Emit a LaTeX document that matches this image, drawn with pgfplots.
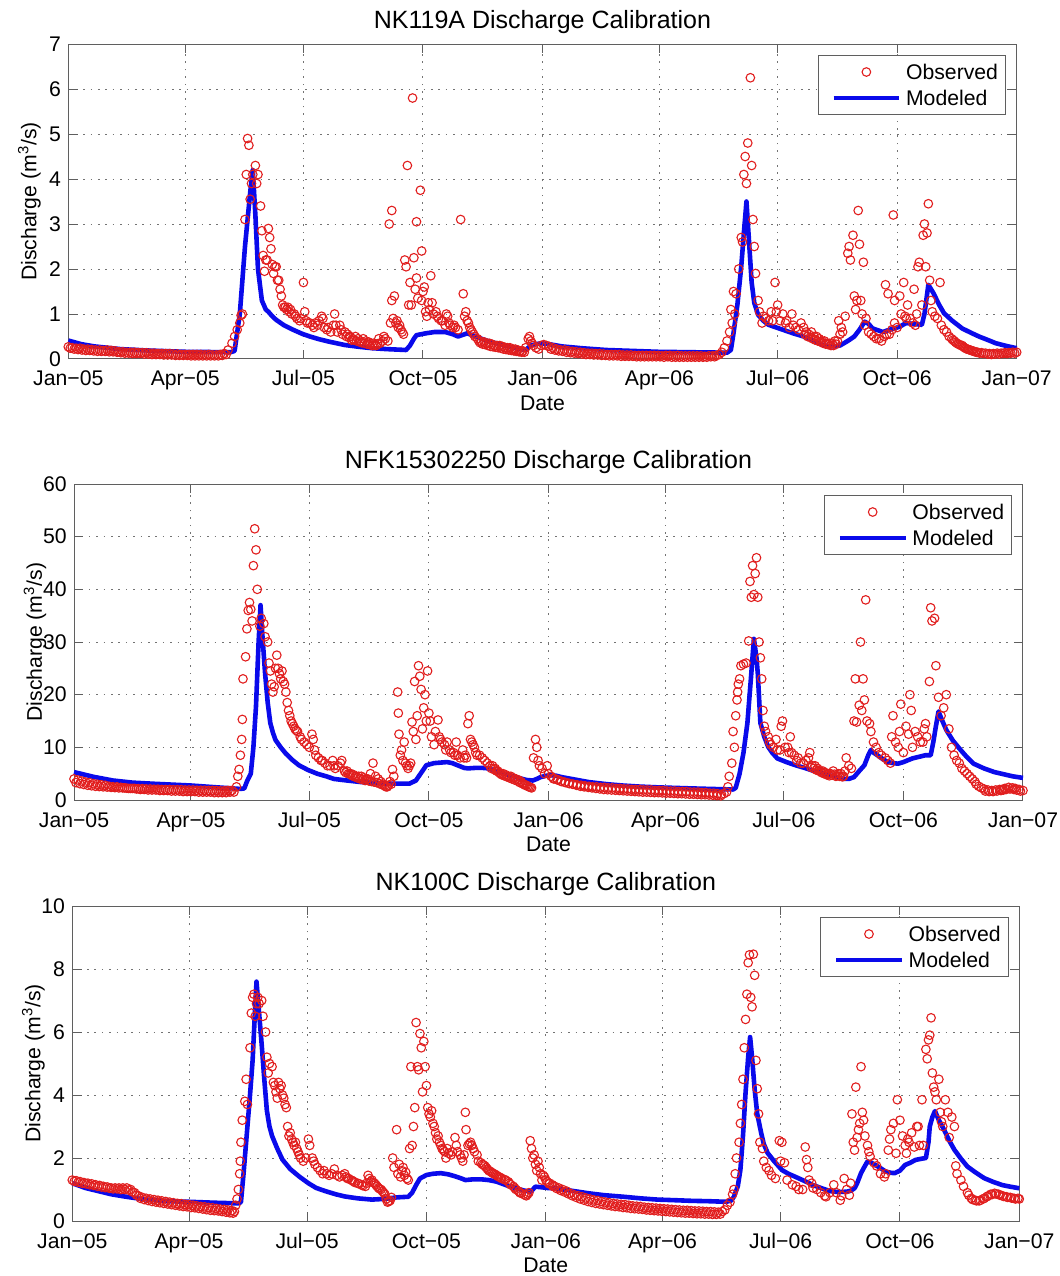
\documentclass[border=0pt]{standalone}
\usepackage{fontspec}
\setmainfont{Liberation Sans}
\usepackage{pgfplots}
\pgfplotsset{compat=1.18}
\definecolor{obsred}{RGB}{225,30,30}
\definecolor{modblue}{RGB}{10,10,235}
\definecolor{axgray}{RGB}{95,95,95}
\pgfplotsset{
  calib/.style={
    anchor=north west, scale only axis, clip=false,
    xmin=0, xmax=730, ymin=0,
    xtick={0,90,181,273,365,455,546,638,730},
    xticklabels={Jan−05,Apr−05,Jul−05,Oct−05,Jan−06,Apr−06,Jul−06,Oct−06,Jan−07},
    /pgf/number format/assume math mode=true,
    font=\fontsize{10.6}{12}\selectfont,
    tick label style={font=\fontsize{10.6}{12}\selectfont},
    xticklabel style={anchor=base, inner sep=0pt, yshift=-13.5pt},
    yticklabel style={anchor=east, inner sep=0pt, xshift=-3.5pt},
    major tick length=4.7pt,
    tick style={axgray, line width=0.5pt},
    axis line style={axgray, line width=0.5pt},
    grid=major,
    grid style={black!55, line width=0.5pt, dash pattern=on 0.8pt off 2.9pt},
    title style={at={([yshift=2pt]axis description cs:0.5,1)}, anchor=base, font=\fontsize{12.5}{14}\selectfont, inner sep=0pt},
    xlabel={Date},
    xlabel style={at={([yshift=-25.75pt]axis description cs:0.5,0)}, anchor=base, inner sep=0pt},
    ylabel={Discharge (m\textsuperscript{3}/s)},
    ylabel style={at={([xshift=-16pt]axis description cs:0,0.5)}, anchor=base, inner sep=0pt},
    legend cell align=left,
    legend style={at={(1,1)}, anchor=north east, xshift=-5.35pt, yshift=-5.5pt,
      draw=axgray, line width=0.5pt, fill=white,
      inner xsep=3.75pt, inner ysep=4.45pt, row sep=5.4pt,
      font=\fontsize{10.6}{12}\selectfont,
      nodes={inner sep=0pt, text height=7.6pt, text depth=0pt}},
  },
  obs/.style={only marks, mark=o, mark size=2.15pt,
    mark options={draw=obsred, line width=0.55pt},
    legend image code/.code={\path (-2.75pt,0pt) (35.1pt,0pt);
      \draw[only marks, mark=o, mark size=2.15pt, draw=obsred, line width=0.55pt] plot coordinates {(16.4pt,0pt)};}},
  mod/.style={no marks, modblue, line width=2.3pt, line join=round,
    legend image code/.code={\path (-2.75pt,0pt) (35.1pt,0pt);
      \draw[modblue, line width=2.3pt] (0pt,0pt) -- (32.85pt,0pt);}},
}
\begin{document}
\begin{tikzpicture}
\path[use as bounding box] (0pt,0pt) rectangle (530pt,-638pt);
% ---------------- Panel 1 ----------------
\begin{axis}[calib, at={(34.15pt,-22pt)}, width=474.2pt, height=157.5pt,
  ymax=7, ytick distance=1, title={NK119A Discharge Calibration}]
\addplot[obs] coordinates {
(0,0.27)(3,0.25)(6,0.24)(9,0.24)(12,0.22)(15,0.22)(18,0.21)(21,0.2)(24,0.2)(27,0.19)(30,0.2)(33,0.19)(36,0.18)(39,0.16)(42,0.16)(45,0.15)(48,0.15)(51,0.15)(54,0.14)(57,0.14)(60,0.14)(63,0.13)(66,0.13)(69,0.12)(72,0.12)(75,0.12)(78,0.12)(81,0.11)(84,0.11)(87,0.1)(90,0.1)(93,0.1)(96,0.1)(99,0.1)(102,0.1)(105,0.09)(108,0.1)(111,0.09)(114,0.09)(117,0.1)(120,0.12)(123,0.2)
(126,0.35)(128,0.5)(130,0.65)(132,0.8)(133,0.97)(134,1.0)(136,3.1)(137,4.1)(138,4.9)(139,4.75)(140,3.55)(141,3.9)(142,4.1)(144,4.3)(145,3.9)(146,4.1)(148,3.4)(149,2.85)(150,2.3)(151,1.95)(152,2.2)(153,2.2)(154,2.9)(155,2.7)(156,2.45)(157,2.1)(158,1.9)(159,2.05)(160,2.05)(161,1.75)(162,1.75)(163,1.55)(164,1.4)(165,1.2)(166,1.15)(167,1.15)(168,1.1)(169,1.15)(170,1.05)(171,1.1)(172,1.0)(174,1.0)(175,0.95)(176,0.9)(178,0.85)(179,0.9)(181,1.7)(182,1.05)(183,0.85)(184,0.8)(186,0.8)(188,0.75)(189,0.7)(190,0.8)(192,0.75)(193,0.85)(195,0.95)(196,0.9)(197,0.7)(199,0.65)(200,0.7)(202,0.6)(204,0.75)(205,1.0)(206,0.75)(207,0.6)(209,0.75)(210,0.65)(211,0.55)(213,0.6)(215,0.55)(217,0.5)(219,0.45)(221,0.5)(223,0.45)(225,0.4)(227,0.45)(229,0.4)(231,0.38)(233,0.35)(235,0.35)(237,0.3)(239,0.45)(240,0.35)(242,0.4)(243,0.5)(244,0.45)(246,0.4)
(247,3.0)(248,0.8)(249,3.3)(249,1.3)(250,0.9)(251,1.4)(252,0.8)(253,0.85)(254,0.7)(255,0.75)(256,0.65)(257,0.6)(258,0.55)(259,2.2)(260,2.05)(261,4.3)(262,1.2)(263,1.7)(264,1.2)(265,5.8)(266,2.25)(267,1.55)(268,3.05)(268,1.8)(269,1.35)(271,3.75)(272,2.4)(272,1.3)(273,1.5)(274,1.6)(275,1.05)(276,0.95)(277,1.25)(278,1.1)(279,1.85)(280,1.25)(281,1.0)(283,1.05)(284,0.95)(285,0.9)(287,0.85)(288,0.85)(290,0.75)(291,1.0)(292,0.95)(293,0.8)(294,0.75)(296,0.7)(297,0.75)(298,0.7)(300,0.65)(302,3.1)(304,1.45)(305,0.95)(306,1.05)(307,0.85)(308,0.8)(309,0.7)(310,0.65)(311,0.6)(312,0.55)(313,0.5)(315,0.45)(316,0.4)(318,0.38)(320,0.38)(322,0.35)(324,0.35)(326,0.33)(328,0.3)(330,0.3)(332,0.3)(334,0.28)(336,0.26)(338,0.25)(340,0.25)(342,0.22)(344,0.22)(346,0.2)(348,0.18)(350,0.18)(352,0.25)(354,0.45)(355,0.5)(356,0.4)(357,0.35)(358,0.3)(360,0.25)(362,0.22)(364,0.3)(366,0.32)(368,0.3)(370,0.28)(373,0.25)(376,0.22)(379,0.2)(382,0.2)(385,0.18)(388,0.17)(391,0.16)(394,0.15)(397,0.14)(400,0.13)(403,0.13)(406,0.12)(409,0.12)(412,0.11)(415,0.1)(418,0.1)(421,0.1)(424,0.1)(427,0.09)(430,0.09)(433,0.09)(436,0.08)(439,0.08)(442,0.08)(445,0.08)(448,0.08)(451,0.08)(454,0.08)(457,0.07)(460,0.08)(463,0.08)(466,0.07)(469,0.08)(472,0.07)(475,0.07)(478,0.07)(481,0.07)(484,0.07)(487,0.07)(490,0.06)(493,0.07)(496,0.07)(499,0.08)
(501,0.1)(503,0.15)(505,0.25)(507,0.4)(509,0.6)(510,1.1)(511,0.8)(512,1.5)(513,1.0)(514,1.45)(516,2.0)(518,2.7)(519,2.6)(520,4.1)(521,4.5)(522,3.9)(523,4.8)(525,6.25)(526,4.3)(527,3.1)(528,2.5)(529,1.9)(531,1.3)(532,1.05)(534,0.8)(535,0.95)(537,0.9)(539,0.85)(541,1.05)(542,0.85)(544,1.7)(545,1.05)(546,1.2)(548,0.85)(550,1.0)(552,0.8)(553,0.85)(555,0.7)(557,1.0)(558,0.75)(560,0.7)(562,0.65)(564,0.8)(566,0.7)(568,0.6)(570,0.55)(572,0.6)(574,0.5)(576,0.5)(578,0.45)(580,0.4)(582,0.4)(584,0.35)(586,0.35)(588,0.35)(590,0.4)(592,0.4)(593,0.85)(594,0.55)(595,0.7)(596,0.6)(598,0.95)
(600,2.35)(601,2.5)(602,2.2)(604,2.75)(605,1.4)(606,1.1)(607,1.3)(608,3.3)(609,2.55)(610,1.3)(611,1.0)(612,2.15)(613,0.75)(614,0.9)(616,0.6)(618,0.55)(620,0.5)(622,0.45)(624,0.45)(626,0.4)(628,0.5)(629,1.65)(630,0.55)(631,1.45)(632,0.55)(634,0.65)(635,3.2)(636,1.3)(636,0.8)(638,0.7)(640,1.4)(641,1.0)(643,1.7)(644,0.95)(645,0.9)(646,1.2)(648,0.9)(650,0.8)(651,1.55)(652,0.75)(653,1.0)(654,2.05)(655,2.15)(657,1.2)(658,2.75)(659,3.0)(660,2.05)(661,2.8)(662,3.45)(663,1.75)(664,1.3)(665,1.05)(667,0.95)(669,0.9)(671,1.7)(672,0.75)(674,0.65)(676,0.6)(678,0.5)(680,0.45)(682,0.4)(684,0.35)(686,0.32)(688,0.3)(690,0.25)(692,0.22)(694,0.2)(696,0.18)(698,0.16)(700,0.15)(703,0.14)(706,0.13)(709,0.12)(712,0.12)(715,0.13)(718,0.13)(721,0.14)(724,0.14)(727,0.15)(730,0.15)
};
\addlegendentry{Observed}
\addplot[obs, forget plot] coordinates {
(1.5,0.24)(4.5,0.22)(7.5,0.21)(10.5,0.2)(13.5,0.19)(16.5,0.19)(19.5,0.18)(22.5,0.17)(25.5,0.17)(28.5,0.17)(31.5,0.16)(34.5,0.16)(37.5,0.15)(40.5,0.14)(43.5,0.13)(46.5,0.13)(49.5,0.12)(52.5,0.12)(55.5,0.12)(58.5,0.11)(61.5,0.11)(64.5,0.1)(67.5,0.1)(70.5,0.1)(73.5,0.09)(76.5,0.09)(79.5,0.09)(82.5,0.08)(85.5,0.08)(88.5,0.08)(91.5,0.08)(94.5,0.07)(97.5,0.07)(100.5,0.07)(103.5,0.07)(106.5,0.07)(109.5,0.07)(112.5,0.07)(115.5,0.07)(118.5,0.08)(121.5,0.1)
(214,0.5)(216,0.48)(218,0.42)(220,0.42)(222,0.4)(224,0.38)(226,0.36)(228,0.35)(230,0.33)(232,0.32)(234,0.3)(236,0.32)(238,0.34)
(317,0.36)(319,0.33)(321,0.32)(323,0.3)(325,0.28)(327,0.27)(329,0.26)(331,0.25)(333,0.24)(335,0.22)(337,0.21)(339,0.2)(341,0.19)(343,0.18)(345,0.17)(347,0.16)(349,0.15)(351,0.15)
(371.5,0.22)(374.5,0.2)(377.5,0.18)(380.5,0.17)(383.5,0.15)(386.5,0.14)(389.5,0.13)(392.5,0.12)(395.5,0.11)(398.5,0.1)(401.5,0.1)(404.5,0.09)(407.5,0.09)(410.5,0.08)(413.5,0.08)(416.5,0.07)(419.5,0.07)(422.5,0.07)(425.5,0.06)(428.5,0.06)(431.5,0.06)(434.5,0.06)(437.5,0.05)(440.5,0.05)(443.5,0.05)(446.5,0.05)(449.5,0.05)(452.5,0.05)(455.5,0.05)(458.5,0.04)(461.5,0.05)(464.5,0.04)(467.5,0.04)(470.5,0.04)(473.5,0.04)(476.5,0.04)(479.5,0.04)(482.5,0.04)(485.5,0.04)(488.5,0.04)(491.5,0.04)(494.5,0.05)(497.5,0.05)
(567,0.55)(569,0.5)(571,0.48)(573,0.45)(575,0.42)(577,0.4)(579,0.38)(581,0.35)(583,0.33)(585,0.32)(587,0.3)(589,0.3)(591,0.33)
(681,0.42)(683,0.37)(685,0.33)(687,0.3)(689,0.27)(691,0.23)(693,0.21)(695,0.19)(697,0.17)(699,0.15)(701.5,0.13)(704.5,0.12)(707.5,0.11)(710.5,0.1)(713.5,0.11)(716.5,0.11)(719.5,0.12)(722.5,0.12)(725.5,0.13)(728.5,0.13)
};
\addplot[mod] coordinates {
(0,0.41)(10,0.33)(20,0.28)(40,0.22)(60,0.19)(90,0.16)(125,0.15)(128,0.18)(132,1.0)(136,2.5)(140,3.7)(142,4.2)(144,3.2)(146,2.0)(149,1.3)(152,1.1)(154,1.05)(157,0.95)(160,0.87)(166,0.75)(173,0.65)(180,0.56)(186,0.5)(193,0.44)(200,0.39)(213,0.31)(224,0.27)(234,0.24)(245,0.22)(260,0.2)(263,0.3)(266,0.45)(268,0.53)(275,0.57)(282,0.6)(290,0.6)(296,0.55)(300,0.5)(304,0.54)(307,0.57)(312,0.52)(318,0.45)(324,0.39)(332,0.33)(340,0.27)(348,0.22)(352,0.2)(356,0.3)(360,0.33)(364,0.35)(370,0.33)(380,0.28)(395,0.24)(414,0.2)(434,0.18)(454,0.16)(480,0.15)(507,0.14)(510,0.2)(512,0.57)(515,1.2)(518,2.06)(520,2.8)(522,3.5)(524,2.6)(526,1.7)(528,1.25)(531,0.98)(535,0.85)(539,0.76)(545,0.7)(550,0.65)(558,0.57)(566,0.5)(574,0.4)(581,0.31)(586,0.28)(590,0.28)(594,0.3)(597,0.35)(601,0.42)(605,0.5)(609,0.65)(613,0.83)(616,0.78)(619,0.68)(623,0.64)(627,0.6)(632,0.65)(636,0.68)(640,0.72)(645,0.8)(650,0.78)(657,0.76)(659,1.0)(662,1.65)(666,1.46)(670,1.22)(674,1.02)(680,0.86)(688,0.68)(695,0.58)(701,0.5)(708,0.42)(714,0.35)(722,0.29)(730,0.24)
};
\addlegendentry{Modeled}
\end{axis}
% ---------------- Panel 2 ----------------
\begin{axis}[calib, at={(37pt,-242pt)}, width=474.5pt, height=158pt,
  ymax=60, ytick distance=10, title={NFK15302250 Discharge Calibration}]
\addplot[obs] coordinates {
(0,4.0)(3,3.8)(6,3.6)(9,3.4)(12,3.3)(15,3.1)(18,3.0)(21,2.9)(24,2.8)(27,2.6)(30,2.5)(33,2.5)(36,2.4)(39,2.3)(42,2.2)(45,2.2)(48,2.1)(51,2.0)(54,2.0)(57,1.9)(60,1.9)(63,1.9)(66,1.8)(69,1.8)(72,1.8)(75,1.7)(78,1.7)(81,1.7)(84,1.6)(87,1.6)(90,1.6)(93,1.6)(96,1.5)(99,1.5)(102,1.5)(105,1.5)(108,1.4)(111,1.4)(114,1.4)(117,1.4)(120,1.5)(123,1.5)
(125,2.5)(126,4.5)(127,5.8)(128,8.5)(129,11.5)(129.5,15.3)(130,23)(132,27.2)(133,32.5)(134,36)(135,37.5)(136,36.2)(137,34)(138,44.5)(139,51.5)(140,47.5)(141,40)(143,33)(144,34.5)(146,33.5)(147,31)(149,30)(150,26)(151,24.5)(152,22)(153,20.5)(154,21.5)(155,25)(156,27.5)(157,25)(158,24)(159,23)(160,24.5)(161,22.5)(162,22)(163,20.5)(164,18.5)(165,17)(166,16)(167,15)(168,14.5)(169,14)(170,13.5)(171,13.2)(172,13)(174,12)(175,11.5)(177,11)(179,10.5)(181,10)(183,12.5)(184,11.5)(185,9.5)(186,8.5)(188,8)(190,7.5)(191,7.5)(193,7)(195,6.5)(197,6.5)(199,7.5)(200,6.5)(201,6)(203,6.5)(205,7)(206,7.5)(208,5.5)(210,5.5)(212,5)(213,5)(215,4.8)(217,4.5)(219,4.5)(221,4.5)(223,4.2)(225,4.0)(226,4.0)(228,5)(230,7.0)(232,4.5)(234,4.0)(236,3.5)(238,3.0)(240,2.5)(242,2.8)(243,3.5)(245,5.8)(246,4.5)
(249,20.5)(249.5,16.5)(250,12.5)(251,8.5)(252,9.5)(253,7.5)(254,11)(255,7)(256,6.5)(257,6)(258,6.5)(259,7)(260,14.8)(261,13)(262,22.5)(263,11.5)(264,16)(265,25.5)(266,23.5)(267,21)(268,13.5)(269,17.5)(270,20)(271,15)(272,24.5)(273,16.5)(274,15)(275,12)(277,10.5)(278,13)(280,15.2)(281,12)(282,11.5)(283,11)(285,10.5)(286,9.5)(287,11)(289,9.5)(290,9)(292,9)(293,8.5)(294,11)(295,8.5)(297,8)(299,9.5)(300,8)(301,8.5)(302,8)(303,14.5)(304,16)(305,11.5)(306,11)(307,10.5)(308,10)(309,9)(310,8.5)(312,8.5)(314,8)(316,7.5)(318,7)(320,6.5)(322,6.5)(324,6)(326,5.5)(328,5)(330,5)(332,4.8)(334,4.5)(336,4.5)(338,4.2)(340,4)(342,3.8)(344,3.5)(346,3.0)(348,2.8)(350,2.5)(352,2.3)(353.5,8)(355,11.5)(356,10)(357,7.5)(358,6.5)(360,6)(362,5)(364,6.5)(365,5)(367,4.5)(369,4)(372,3.8)(375,3.5)(378,3.3)(381,3.1)(384,3.0)(387,2.9)(390,2.8)(393,2.7)(396,2.6)(399,2.5)(402,2.5)(405,2.4)(408,2.4)(411,2.3)(414,2.3)(417,2.2)(420,2.2)(423,2.1)(426,2.1)(429,2.0)(432,2.0)(435,2.0)(438,1.9)(441,1.9)(444,1.9)(447,1.8)(450,1.8)(453,1.8)(456,1.7)(459,1.7)(462,1.7)(465,1.6)(468,1.6)(471,1.6)(474,1.5)(477,1.5)(480,1.5)(483,1.4)(486,1.4)(489,1.3)(492,1.3)(495,1.2)(498,1.1)(500,1.2)
(502,1.5)(503,2.5)(504,4.5)(506,7)(507,13)(508,10)(509,16)(510,19)(510.5,20.5)(511,22)(512,23)(513,25.5)(515,25.8)(517,26)(519,30.2)(520,41.5)(521,38.5)(522,44.5)(523,39)(524,43)(525,46)(526,38.5)(527,30)(528,27)(529,23)(530,17)(531,14)(532,13)(534,12)(535,11)(536,10.5)(538,10)(540,11.5)(541,9.5)(543,9.5)(544,14)(545,15)(547,10)(549,10)(550,9)(551,12)(552,9)(554,8.5)(556,7.5)(557,8)(559,7)(561,7)(563,7.5)(565,8)(566,9)(568,6.5)(570,6.5)(572,6)(574,5.5)(576,5.5)(578,5.2)(580,5)(582,5)(584,5.5)(586,4.5)(588,5)(590,5)(592,4.5)(593,5.5)(594,8)(596,6.5)(598,6)
(600,15)(601,23)(602,14.8)(604,18)(605,30)(606,17)(607,23)(608,19)(609,38)(610,15)(612,14.5)(613,13)(615,11)(617,10)(619,9)(621,8.5)(624,8)(626,7.5)(628,7)(629,12)(630,16)(632,11)(634,10)(635,13)(636,18.2)(638,9)(640,14)(642,12.5)(643,20)(644,17)(645,10)(647,13)(649,12)(651,11)(653,11)(654,13.5)(655,14.5)(656,12)(658,22.5)(659,36.5)(660,34)(662,34.5)(663,25.5)(665,19.5)(667,16)(669,17.5)(671,20)(673,13.5)(675,10)(677,8.5)(679,7.5)(681,7)(683,6)(685,5.5)(687,5)(689,4.5)(691,4)(693,3.5)(694,3)(696,2.6)(698,2.3)(700,2.1)(703,1.9)(706,1.8)(709,1.9)(712,2.0)(714,2.0)(716,2.2)(719,2.4)(722,2.3)(724,2.2)(727,2.0)(730,1.8)
};
\addlegendentry{Observed}
\addplot[obs, forget plot] coordinates {
(1.5,3.3)(4.5,3.1)(7.5,2.95)(10.5,2.8)(13.5,2.7)(16.5,2.6)(19.5,2.55)(22.5,2.5)(25.5,2.45)(28.5,2.4)(31.5,2.35)(34.5,2.3)(37.5,2.3)(40.5,2.25)(43.5,2.2)(46.5,2.2)(49.5,2.15)(52.5,2.15)(55.5,2.1)(58.5,2.1)(61.5,2.05)(64.5,2.05)(67.5,2.0)(70.5,2.0)(73.5,2.0)(76.5,1.95)(79.5,1.95)(82.5,1.95)(85.5,1.9)(88.5,1.9)(91.5,1.9)(94.5,1.85)(97.5,1.85)(100.5,1.85)(103.5,1.8)(106.5,1.8)(109.5,1.8)(112.5,1.75)(115.5,1.75)(118.5,1.8)(121.5,1.8)
(209,5.2)(211,5.0)(214,4.6)(216,4.4)(218,4.2)(220,4.0)(222,3.9)(224,3.7)(227,3.6)(229,3.5)(231,3.4)(233,3.3)(235,3.1)(237,2.9)(239,2.7)(241,2.5)(244,3.0)
(321,6.0)(323,5.8)(325,5.5)(327,5.2)(329,4.8)(331,4.6)(333,4.4)(335,4.2)(337,4.0)(339,3.8)(341,3.6)(343,3.3)(345,3.1)(347,2.8)(349,2.6)(351,2.4)
(368.5,4.2)(371.5,3.9)(374.5,3.6)(377.5,3.4)(380.5,3.2)(383.5,3.0)(386.5,2.8)(389.5,2.6)(392.5,2.5)(395.5,2.4)(398.5,2.3)(401.5,2.2)(404.5,2.1)(407.5,2.0)(410.5,1.95)(413.5,1.9)(416.5,1.85)(419.5,1.8)(422.5,1.75)(425.5,1.7)(428.5,1.65)(431.5,1.6)(434.5,1.55)(437.5,1.5)(440.5,1.5)(443.5,1.45)(446.5,1.4)(449.5,1.4)(452.5,1.35)(455.5,1.3)(458.5,1.3)(461.5,1.25)(464.5,1.2)(467.5,1.2)(470.5,1.15)(473.5,1.1)(476.5,1.1)(479.5,1.05)(482.5,1.0)(485.5,1.0)(488.5,0.95)(491.5,0.9)(494.5,0.85)(497.5,0.8)
(567,6.2)(569,6.0)(571,5.7)(573,5.5)(575,5.2)(577,5.0)(579,4.8)(581,4.6)(583,4.7)(585,4.9)(587,4.6)(589,4.5)(591,4.4)
(701,1.7)(704,1.6)(707,1.6)(710,1.7)(713,1.8)(715,1.9)(717,2.0)(720,2.1)(723,2.0)(725,1.9)(728,1.7)
};
\addplot[mod] coordinates {
(0,5.3)(15,4.4)(30,3.7)(45,3.3)(60,3.1)(90,2.75)(110,2.4)(128,2.1)(131,2.2)(133,3.5)(136,5)(138,10)(140,17.8)(142,30)(143.5,37)(145,31)(147,24)(149,18.5)(151,14.6)(153,12.8)(155,11.4)(159,10)(163,8.8)(168,7.6)(173,6.6)(180,5.7)(187,5.0)(194,4.5)(200,4.0)(210,3.7)(221,3.4)(240,3.1)(258,3.1)(263,3.7)(268,5.5)(271,6.6)(277,7.0)(287,7.2)(291,7.0)(295,6.6)(300,6.1)(303,6.0)(309,6.1)(314,6.1)(319,6.0)(327,5.3)(335,4.7)(342,4.2)(348,3.8)(353,3.7)(356,4.0)(359,4.35)(363,4.6)(367,4.7)(371,4.6)(375,4.35)(385,3.9)(396,3.4)(410,3.0)(422,2.75)(435,2.55)(449,2.4)(462,2.3)(475,2.2)(490,2.1)(507,2.0)(509,2.3)(512,5)(515,9)(518,14.6)(521,24)(523,30.6)(525,27)(526,24)(528,14.6)(531,12)(534,10.1)(537,9)(541,7.9)(548,7.2)(555,6.6)(562,6.1)(568,5.6)(575,5.1)(581,4.7)(587,4.3)(592,4.0)(596,4.0)(600,4.35)(604,5.5)(608,6.6)(611,8.5)(613,9.5)(615,9.0)(618,8.5)(622,7.8)(626,7.2)(630,7.0)(634,6.9)(638,7.2)(642,7.6)(645,7.9)(650,8.2)(655,8.5)(659,8.5)(661,11)(663,14)(665,16.8)(668,15)(671,13.3)(676,11.3)(682,9.5)(687,8.1)(692,6.9)(700,6.0)(708,5.3)(715,4.9)(722,4.5)(730,4.2)
};
\addlegendentry{Modeled}
\end{axis}
% ---------------- Panel 3 ----------------
\begin{axis}[calib, at={(36.15pt,-453pt)}, width=473.5pt, height=157.5pt,
  ymax=10, ytick distance=2, title={NK100C Discharge Calibration}]
\addplot[obs] coordinates {
(0,1.3)(3,1.28)(6,1.25)(9,1.22)(12,1.2)(15,1.18)(18,1.15)(21,1.13)(24,1.1)(27,1.08)(30,1.05)(33,1.05)(36,1.05)(39,1.05)(42,1.05)(45,1.0)(48,0.9)(51,0.8)(54,0.75)(57,0.72)(60,0.7)(63,0.68)(66,0.66)(69,0.64)(72,0.62)(75,0.6)(78,0.58)(81,0.56)(84,0.55)(87,0.53)(90,0.52)(93,0.5)(96,0.48)(99,0.46)(102,0.45)(105,0.43)(108,0.42)(111,0.4)(114,0.38)(117,0.37)(120,0.35)(123,0.33)(125,0.3)
(126,0.5)(127,0.7)(128,1.0)(129,1.5)(129.5,1.9)(130,2.5)(131,3.2)(133,3.8)(134,4.5)(135,3.7)(137,5.5)(138,6.6)(139,7.1)(140,7.2)(141,6.5)(142,6.9)(143,7.1)(144,6.9)(146,7.0)(147,6.5)(149,6.0)(150,5.2)(151,4.7)(152,5.0)(154,4.9)(155,4.4)(156,4.3)(157,4.1)(158,3.9)(159,4.4)(160,4.2)(161,4.3)(162,4.0)(163,3.9)(164,3.7)(165,3.6)(166,3.0)(167,2.7)(168,2.8)(169,2.6)(170,2.5)(171,2.4)(172,2.5)(173,2.3)(174,2.2)(175,2.1)(176,2.0)(178,1.9)(180,2.0)(182,2.6)(183,2.4)(185,2.0)(186,1.9)(187,1.8)(189,1.7)(191,1.6)(193,1.5)(194,1.6)(196,1.5)(198,1.45)(200,1.5)(202,1.65)(204,1.45)(206,1.4)(208,1.45)(210,1.5)(212,1.35)(215,1.3)(217,1.25)(220,1.2)(223,1.15)(226,1.1)(228,1.45)(229,1.35)(231,1.3)(233,1.2)(234,1.15)(236,1.05)(238,1.0)(239,0.95)(241,0.85)(242,0.7)(243,0.6)(245,0.65)(246,0.75)
(247,2.0)(248,1.7)(250,2.9)(251,1.5)(252,1.8)(253,1.4)(254,1.6)(255,1.7)(256,1.45)(257,1.55)(258,1.35)(259,1.3)(260,2.3)(261,4.9)(262,2.4)(263,3.0)(264,3.6)(265,6.3)(266,4.9)(267,4.8)(268,5.95)(269,5.5)(270,4.1)(271,5.7)(272,4.9)(273,4.3)(274,3.6)(275,3.4)(276,3.3)(277,3.5)(278,3.1)(279,3.0)(280,2.8)(281,2.6)(282,2.7)(283,2.5)(284,2.4)(285,2.3)(286,2.25)(287,2.2)(288,2.0)(289,2.3)(290,2.15)(292,2.1)(293,2.2)(295,2.65)(296,2.4)(297,2.2)(299,2.1)(300,2.0)(301,1.9)(302,2.1)(303,3.45)(303.5,2.9)(305,2.4)(306,2.45)(307,2.5)(308,2.4)(309,2.3)(310,2.2)(312,2.1)(313,1.9)(315,1.85)(316,1.8)(318,1.75)(319,1.7)(321,1.6)(323,1.55)(325,1.5)(327,1.45)(329,1.4)(331,1.35)(334,1.3)(337,1.2)(340,1.1)(342,1.0)(345,0.9)(348,0.85)(350,0.8)(352,0.9)
(353,2.55)(354,2.3)(355,2.0)(356,2.1)(357,1.8)(358,1.6)(359,1.9)(360,1.7)(361,1.5)(362,1.3)(363,1.45)(364,1.4)(365,1.3)(366,1.25)(368,1.2)(370,1.15)(372,1.1)(375,1.05)(378,1.0)(381,0.95)(384,0.88)(387,0.83)(390,0.8)(393,0.77)(396,0.73)(399,0.7)(402,0.67)(405,0.65)(408,0.62)(411,0.6)(414,0.58)(417,0.56)(420,0.54)(423,0.53)(426,0.52)(429,0.5)(432,0.48)(435,0.47)(438,0.46)(441,0.44)(444,0.43)(447,0.42)(450,0.41)(453,0.4)(456,0.39)(459,0.38)(462,0.37)(465,0.36)(468,0.35)(471,0.34)(474,0.34)(477,0.33)(480,0.32)(483,0.32)(486,0.31)(489,0.3)(492,0.3)(495,0.29)(498,0.28)(501,0.3)
(503,0.35)(505,0.5)(507,0.6)(509,0.85)(510,1.0)(511,1.5)(512,2.0)(514,2.5)(515,3.1)(516,3.7)(517,4.5)(518,5.5)(519,6.4)(520,7.2)(521,8.2)(522,8.45)(523,7.1)(524,6.8)(525,8.47)(526,7.8)(527,5.1)(528,4.2)(529,3.4)(530,2.5)(532,2.3)(533,1.9)(535,1.7)(537,1.6)(539,1.45)(542,1.35)(545,2.55)(546,1.9)(547,2.5)(549,1.85)(551,1.3)(555,1.15)(558,1.1)(560,1.0)(563,1.0)(565,2.35)(566,1.95)(567,1.7)(568,1.3)(570,1.2)(571,1.05)(574,1.0)(577,0.9)(580,0.8)(581,0.77)(584,0.9)(587,1.15)(589,0.9)(592,0.66)(593,0.8)(595,1.35)(597,1.0)(599,0.82)
(600,1.2)(601,3.4)(602,2.5)(603,2.25)(604,4.25)(605,2.65)(606,2.9)(607,3.1)(608,4.9)(609,3.45)(610,3.2)(611,2.7)(613,2.4)(614,2.2)(615,2.05)(618,1.85)(620,1.75)(623,1.5)(626,1.4)(627,1.5)(629,2.25)(630,2.6)(631,2.9)(633,3.1)(635,2.15)(636,3.85)(638,3.2)(640,2.7)(642,2.4)(643,2.15)(644,2.6)(645,2.5)(647,2.8)(649,2.35)(651,3.0)(652,3.0)(653,2.4)(655,3.85)(656,2.4)(658,5.45)(659,5.15)(660,5.75)(661,5.9)(662,6.45)(663,4.7)(664,4.25)(665,4.1)(666,3.85)(668,4.5)(669,3.45)(670,3.15)(671,3.0)(673,3.85)(675,3.45)(676,2.65)(678,3.3)(680,3.0)(681,1.75)(682,1.5)(685,1.3)(687,1.1)(690,0.9)(693,0.72)(696,0.66)(699,0.64)(702,0.7)(705,0.77)(708,0.85)(711,0.88)(714,0.85)(717,0.8)(720,0.77)(723,0.75)(726,0.72)(729,0.72)
};
\addlegendentry{Observed}
\addplot[obs, forget plot] coordinates {
(1.5,1.26)(4.5,1.23)(7.5,1.2)(10.5,1.18)(13.5,1.15)(16.5,1.13)(19.5,1.1)(22.5,1.08)(25.5,1.06)(28.5,1.04)(31.5,1.02)(34.5,1.02)(37.5,1.0)(40.5,1.0)(43.5,0.98)(46.5,0.92)(49.5,0.82)(52.5,0.72)(55.5,0.68)(58.5,0.65)(61.5,0.62)(64.5,0.6)(67.5,0.58)(70.5,0.56)(73.5,0.54)(76.5,0.52)(79.5,0.5)(82.5,0.48)(85.5,0.46)(88.5,0.45)(91.5,0.43)(94.5,0.42)(97.5,0.4)(100.5,0.38)(103.5,0.36)(106.5,0.34)(109.5,0.33)(112.5,0.32)(115.5,0.3)(118.5,0.28)(121.5,0.26)(124,0.25)
(211,1.4)(213,1.35)(216,1.28)(218,1.22)(221,1.18)(224,1.12)(227,1.2)(230,1.25)(232,1.22)(235,1.1)(237,1.02)(240,0.9)(244,0.62)
(317,1.78)(320,1.65)(322,1.58)(324,1.52)(326,1.48)(328,1.42)(330,1.38)(333,1.32)(336,1.25)(338,1.15)(341,1.05)(344,0.95)(346,0.88)(349,0.82)(351,0.85)
(367.5,1.18)(370.5,1.1)(373.5,1.03)(376.5,0.97)(379.5,0.92)(382.5,0.86)(385.5,0.8)(388.5,0.75)(391.5,0.7)(394.5,0.66)(397.5,0.62)(400.5,0.59)(403.5,0.56)(406.5,0.54)(409.5,0.52)(412.5,0.5)(415.5,0.48)(418.5,0.46)(421.5,0.45)(424.5,0.43)(427.5,0.42)(430.5,0.4)(433.5,0.39)(436.5,0.38)(439.5,0.37)(442.5,0.35)(445.5,0.34)(448.5,0.33)(451.5,0.32)(454.5,0.31)(457.5,0.3)(460.5,0.29)(463.5,0.28)(466.5,0.27)(469.5,0.26)(472.5,0.25)(475.5,0.25)(478.5,0.24)(481.5,0.23)(484.5,0.23)(487.5,0.22)(490.5,0.22)(493.5,0.21)(496.5,0.21)(499.5,0.22)
(691,0.82)(694,0.68)(697,0.64)(700,0.66)(703,0.72)(706,0.8)(709,0.84)(712,0.86)(715,0.82)(718,0.78)(721,0.75)(724,0.73)(727,0.7)(730,0.7)
};
\addplot[mod] coordinates {
(0,1.2)(10,1.05)(20,0.95)(30,0.85)(40,0.78)(50,0.72)(60,0.67)(75,0.63)(90,0.61)(110,0.58)(128,0.56)(130,0.6)(132,1.5)(133,2.0)(135,3.0)(137,4.0)(139,5.1)(141,6.8)(142,7.6)(144,6.6)(146,5.6)(148,4.5)(150,3.5)(152,3.0)(154,2.7)(158,2.3)(162,1.95)(168,1.65)(175,1.41)(182,1.2)(188,1.05)(195,0.95)(203,0.85)(210,0.78)(220,0.72)(231,0.68)(240,0.7)(250,0.75)(259,0.77)(262,0.9)(265,1.14)(268,1.35)(273,1.46)(278,1.5)(284,1.52)(290,1.48)(295,1.42)(300,1.35)(303,1.3)(308,1.32)(316,1.32)(321,1.3)(327,1.25)(335,1.13)(342,1.04)(348,0.97)(353,0.93)(355,1.0)(357,1.09)(362,1.07)(366,1.05)(374,1.03)(385,0.96)(398,0.88)(410,0.82)(425,0.77)(438,0.72)(451,0.68)(465,0.66)(478,0.64)(490,0.63)(504,0.61)(508,0.65)(510,0.77)(513,1.1)(515,1.62)(517,2.7)(519,4.08)(521,5.2)(522.5,5.84)(524,5.2)(526,4.18)(528,3.4)(531,2.8)(533,2.45)(536,2.16)(541,1.9)(547,1.62)(552,1.5)(557,1.41)(564,1.28)(571,1.14)(577,1.05)(584,0.95)(590,0.92)(597,0.93)(600,0.96)(603,1.04)(605,1.2)(608,1.52)(611,1.75)(613,1.89)(616,1.85)(619,1.78)(623,1.68)(627,1.57)(631,1.53)(634,1.52)(638,1.6)(642,1.78)(646,1.85)(650,1.94)(655,1.98)(658,2.0)(660,2.5)(661,3.0)(663,3.3)(665,3.49)(668,3.2)(672,2.9)(676,2.55)(680,2.26)(685,1.98)(690,1.73)(696,1.55)(703,1.36)(710,1.24)(717,1.14)(723,1.09)(730,1.04)
};
\addlegendentry{Modeled}
\end{axis}
\end{tikzpicture}
\end{document}
